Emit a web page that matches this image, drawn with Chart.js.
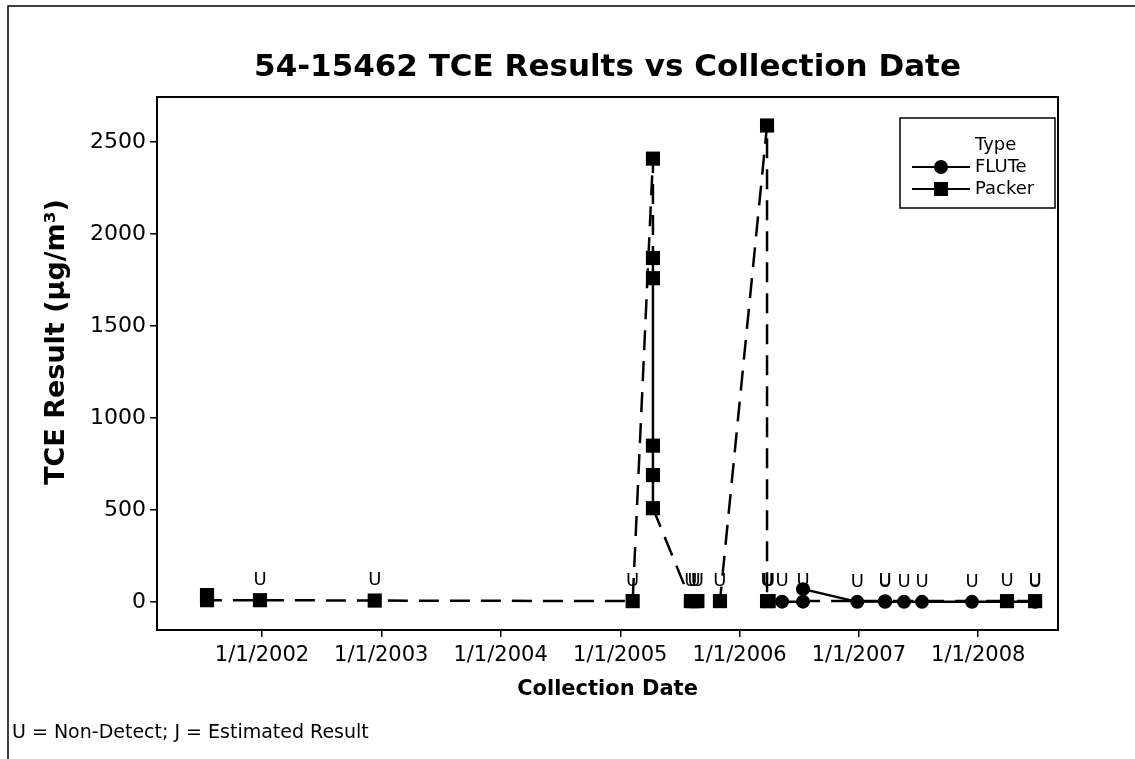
<!DOCTYPE html>
<html lang="en">
<head>
<meta charset="UTF-8">
<title>54-15462 TCE Results vs Collection Date</title>
<style>
  html, body { margin: 0; padding: 0; background: #fff; }
  #wrap { width: 1135px; height: 759px; }
</style>
</head>
<body>
<div id="wrap"><canvas id="tceChart" width="1135" height="759"></canvas></div>
<script src="https://cdn.jsdelivr.net/npm/chart.js@4/dist/chart.umd.min.js"></script>
<script>
// FLUTe samples (date, TCE result in ug/m3, qualifier)
const fluteDates  = ['2006-05-11', '2006-07-14', '2006-07-14', '2006-12-27', '2007-03-22', '2007-03-22',
                     '2007-05-19', '2007-07-13', '2007-12-13', '2008-06-23'];
const fluteValues = [2, 2, 70, 1, 4, 1, 1, 1, 1, 1];
const fluteQual   = ['U', 'U', '', 'U', 'U', 'U', 'U', 'U', 'U', 'U'];

// Packer samples
const packerDates  = ['2001-07-17', '2001-07-17', '2001-12-26', '2002-12-12', '2005-02-08',
                      '2005-04-11', '2005-04-11', '2005-04-11', '2005-04-11', '2005-04-11', '2005-04-11',
                      '2005-08-05', '2005-08-15', '2005-08-25', '2005-11-02',
                      '2006-03-26', '2006-03-26', '2006-03-31', '2008-03-29', '2008-06-23'];
const packerValues = [38, 10, 10, 8, 5,
                      2410, 1870, 1760, 850, 690, 510,
                      5, 5, 5, 5,
                      2590, 5, 5, 5, 5];
const packerQual   = ['', '', 'U', 'U', 'U',
                      '', '', '', '', '', '',
                      'U', 'U', 'U', 'U',
                      '', 'U', 'U', 'U', 'U'];

const xTickLabels = ['1/1/2002', '1/1/2003', '1/1/2004', '1/1/2005', '1/1/2006', '1/1/2007', '1/1/2008'];
const yTicks = [0, 500, 1000, 1500, 2000, 2500];

const FONT = '"DejaVu Sans", Verdana, sans-serif';

function isoToMs(s) {
  const [y, m, d] = s.split('-').map(Number);
  return Date.UTC(y, m - 1, d);
}
function mdyToMs(s) {
  const [m, d, y] = s.split('/').map(Number);
  return Date.UTC(y, m - 1, d);
}
function points(dates, values) {
  return dates.map((d, i) => ({ x: isoToMs(d), y: values[i] }));
}

// extra drawing: frame, titles, legend box, "U" qualifiers
const decorations = {
  id: 'decorations',
  afterDatasetsDraw(chart) {
    const ctx = chart.ctx;
    ctx.save();
    // qualifier letters above the points
    ctx.fillStyle = '#000';
    ctx.font = '18px ' + FONT;
    ctx.textAlign = 'center';
    ctx.textBaseline = 'middle';
    const quals = [fluteQual, packerQual];
    chart.data.datasets.forEach((ds, k) => {
      chart.getDatasetMeta(k).data.forEach((pt, i) => {
        if (quals[k][i]) ctx.fillText(quals[k][i], pt.x, pt.y - 20);
      });
    });
    ctx.restore();
  },
  afterDraw(chart) {
    const ctx = chart.ctx;
    const a = chart.chartArea;
    ctx.save();
    ctx.strokeStyle = '#000';
    ctx.fillStyle = '#000';

    // plot frame
    ctx.lineWidth = 2;
    ctx.strokeRect(a.left, a.top, a.right - a.left, a.bottom - a.top);

    // outer figure border (top + left)
    ctx.lineWidth = 1.5;
    ctx.beginPath();
    ctx.moveTo(8, 759);
    ctx.lineTo(8, 6);
    ctx.lineTo(1135, 6);
    ctx.stroke();

    // title
    ctx.textAlign = 'center';
    ctx.textBaseline = 'middle';
    ctx.font = 'bold 31px ' + FONT;
    ctx.fillText('54-15462 TCE Results vs Collection Date', (a.left + a.right) / 2, 68);

    // axis titles
    ctx.font = 'bold 21px ' + FONT;
    ctx.fillText('Collection Date', (a.left + a.right) / 2, 690);
    ctx.save();
    ctx.translate(57, 342);
    ctx.rotate(-Math.PI / 2);
    ctx.font = 'bold 27px ' + FONT;
    ctx.fillText('TCE Result (\u00b5g/m\u00b3)', 0, 0);
    ctx.restore();

    // footnote
    ctx.textAlign = 'left';
    ctx.font = '19px ' + FONT;
    ctx.fillText('U = Non-Detect; J = Estimated Result', 12, 733);

    // legend
    ctx.lineWidth = 1.5;
    ctx.strokeRect(900, 118, 155, 90);
    ctx.font = '18px ' + FONT;
    ctx.fillText('Type', 975, 145);
    ctx.fillText('FLUTe', 975, 167);
    ctx.fillText('Packer', 975, 189);
    ctx.lineWidth = 2;
    ctx.beginPath();
    ctx.moveTo(912, 167); ctx.lineTo(970, 167);
    ctx.moveTo(912, 189); ctx.lineTo(970, 189);
    ctx.stroke();
    ctx.beginPath();
    ctx.arc(941, 167, 7, 0, Math.PI * 2);
    ctx.fill();
    ctx.fillRect(934, 182, 14, 14);

    ctx.restore();
  }
};

const dashed = [20, 11];

new Chart(document.getElementById('tceChart'), {
  type: 'line',
  data: {
    datasets: [
      {
        label: 'FLUTe',
        data: points(fluteDates, fluteValues),
        borderColor: '#000',
        backgroundColor: '#000',
        borderWidth: 2.5,
        pointStyle: 'circle',
        pointRadius: 7,
        pointBorderWidth: 0,
        tension: 0
      },
      {
        label: 'Packer',
        data: points(packerDates, packerValues),
        borderColor: '#000',
        backgroundColor: '#000',
        borderWidth: 2.5,
        borderDash: dashed,
        pointStyle: 'rect',
        pointRadius: 10,
        pointBorderWidth: 0,
        tension: 0,
        segment: {
          // the drop between the mid-range 2005 packer results is drawn solid
          borderDash: c => (c.p0.parsed.x === c.p1.parsed.x &&
                            Math.min(c.p0.parsed.y, c.p1.parsed.y) > 300 &&
                            Math.max(c.p0.parsed.y, c.p1.parsed.y) < 2000) ? [] : dashed
        }
      }
    ]
  },
  options: {
    responsive: false,
    animation: false,
    layout: { padding: { top: 97, right: 77, left: 0, bottom: 0 } },
    plugins: {
      legend: { display: false },
      tooltip: { enabled: false }
    },
    scales: {
      x: {
        type: 'linear',
        min: Date.UTC(2001, 1, 14),
        max: Date.UTC(2008, 8, 1),
        afterBuildTicks: s => { s.ticks = xTickLabels.map(l => ({ value: mdyToMs(l) })); },
        afterFit: s => { s.height = 129; },
        ticks: {
          autoSkip: false,
          maxRotation: 0,
          color: '#000',
          font: { family: FONT, size: 21 },
          padding: 6,
          callback: (v, i) => xTickLabels[i]
        },
        grid: { drawOnChartArea: false, drawTicks: true, tickLength: 7, color: '#000', lineWidth: 1.5 },
        border: { display: true, color: '#000', width: 2 }
      },
      y: {
        min: -152,
        max: 2745,
        afterBuildTicks: s => { s.ticks = yTicks.map(v => ({ value: v })); },
        afterFit: s => { s.width = 157; },
        ticks: {
          color: '#000',
          font: { family: FONT, size: 22 },
          padding: 4,
          callback: v => String(v)
        },
        grid: { drawOnChartArea: false, drawTicks: true, tickLength: 7, color: '#000', lineWidth: 1.5 },
        border: { display: true, color: '#000', width: 2 }
      }
    }
  },
  plugins: [decorations]
});
</script>
</body>
</html>
